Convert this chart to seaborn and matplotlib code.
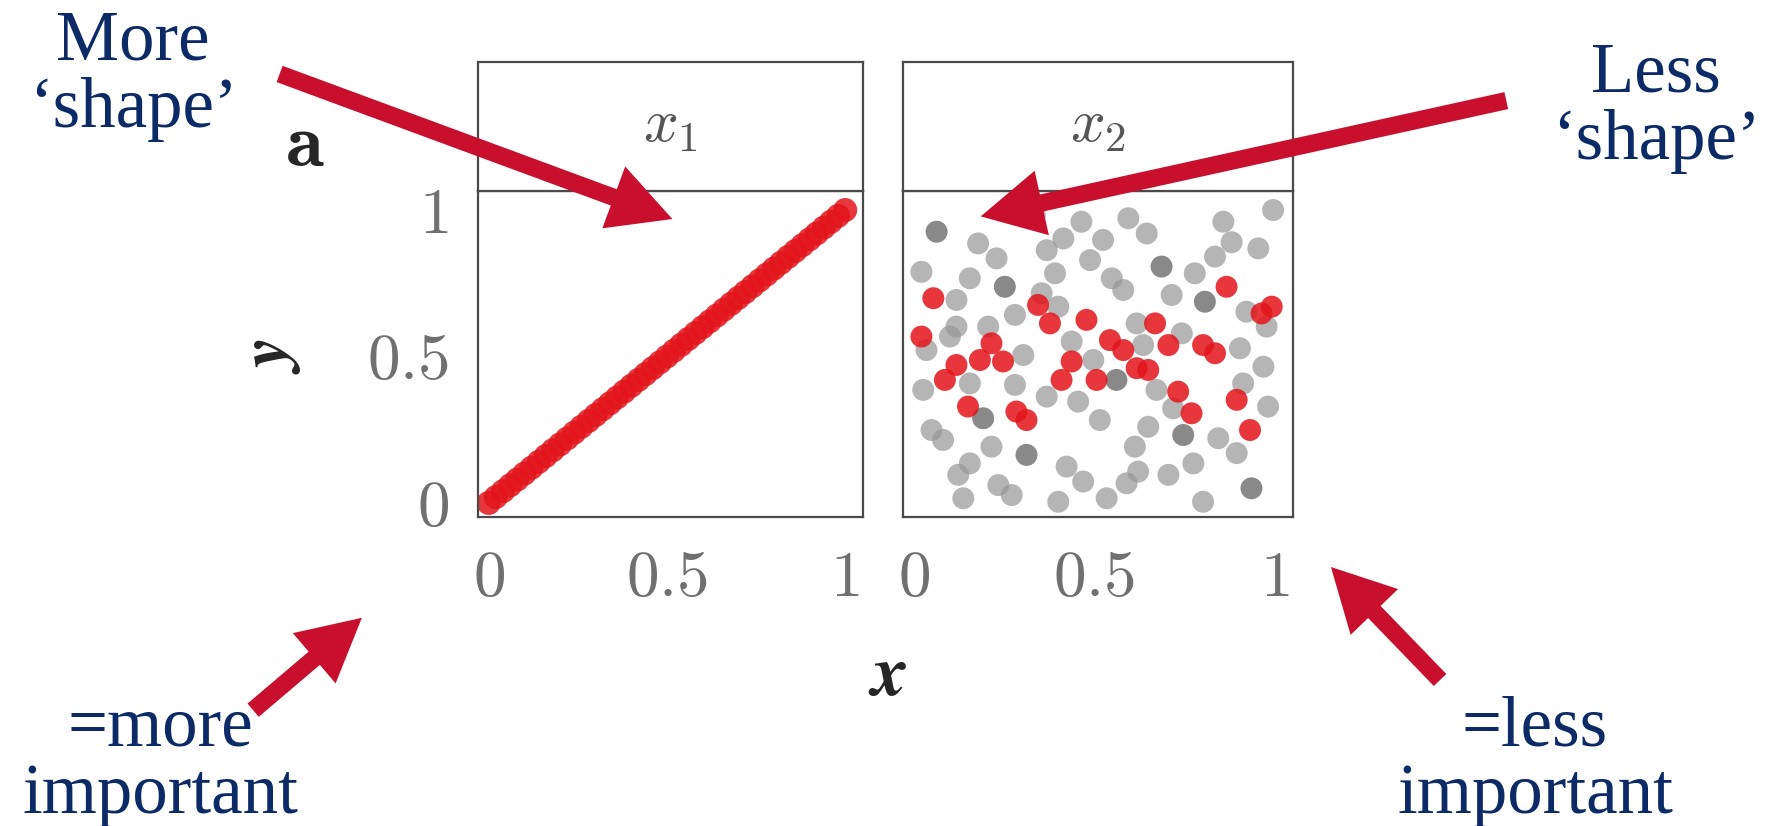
import pandas as pd
import matplotlib.pyplot as plt
import seaborn as sns

sns.set_style('white')
plt.rcParams['mathtext.fontset'] = 'cm'
plt.rcParams['font.family'] = ['Liberation Serif', 'DejaVu Serif']

# Left panel: y depends on x1 (points lie on the diagonal)
x1_vals = [0.00, 0.02, 0.04, 0.06, 0.08, 0.10, 0.12, 0.14, 0.16, 0.18,
           0.20, 0.22, 0.24, 0.26, 0.28, 0.30, 0.32, 0.34, 0.36, 0.38,
           0.40, 0.42, 0.44, 0.46, 0.48, 0.50, 0.52, 0.54, 0.56, 0.58,
           0.60, 0.62, 0.64, 0.66, 0.68, 0.70, 0.72, 0.74, 0.76, 0.78,
           0.80, 0.82, 0.84, 0.86, 0.88, 0.90, 0.92, 0.94, 0.96, 0.98, 1.00]
y1_vals = [0.00, 0.02, 0.04, 0.06, 0.08, 0.10, 0.12, 0.14, 0.16, 0.18,
           0.20, 0.22, 0.24, 0.26, 0.28, 0.30, 0.32, 0.34, 0.36, 0.38,
           0.40, 0.42, 0.44, 0.46, 0.48, 0.50, 0.52, 0.54, 0.56, 0.58,
           0.60, 0.62, 0.64, 0.66, 0.68, 0.70, 0.72, 0.74, 0.76, 0.78,
           0.80, 0.82, 0.84, 0.86, 0.88, 0.90, 0.92, 0.94, 0.96, 0.98, 1.00]

# Right panel: gray cloud (y unrelated to x2)
gray_x = [0.178, 0.229, 0.021, 0.155, 0.118, 0.335, 0.368, 0.414, 0.464, 0.524,
          0.594, 0.645, 0.488, 0.391, 0.548, 0.580, 0.714, 0.857, 0.880, 0.834,
          0.954, 0.995, 0.778, 0.921, 0.118, 0.035, 0.100, 0.206, 0.280, 0.354,
          0.400, 0.303, 0.437, 0.497, 0.617, 0.635, 0.742, 0.903, 0.968, 0.977,
          0.912, 0.026, 0.155, 0.280, 0.368, 0.455, 0.672, 0.718, 0.981, 0.049,
          0.081, 0.215, 0.515, 0.649, 0.612, 0.843, 0.894, 0.155, 0.123, 0.423,
          0.469, 0.621, 0.589, 0.705, 0.774, 0.234, 0.271, 0.137, 0.400, 0.534,
          0.801]
gray_y = [0.886, 0.835, 0.789, 0.767, 0.693, 0.983, 0.863, 0.903, 0.960, 0.898,
          0.972, 0.920, 0.829, 0.784, 0.767, 0.727, 0.710, 0.960, 0.890, 0.841,
          0.869, 1.000, 0.784, 0.653, 0.602, 0.522, 0.568, 0.602, 0.642, 0.716,
          0.670, 0.505, 0.551, 0.488, 0.613, 0.539, 0.579, 0.528, 0.465, 0.602,
          0.408, 0.386, 0.408, 0.403, 0.363, 0.346, 0.386, 0.323, 0.329, 0.249,
          0.215, 0.192, 0.283, 0.260, 0.192, 0.221, 0.170, 0.135, 0.096, 0.124,
          0.073, 0.107, 0.067, 0.096, 0.135, 0.061, 0.027, 0.016, 0.004, 0.016,
          0.004]
dark_x = [0.063, 0.252, 0.686, 0.806, 0.561, 0.192, 0.312, 0.746, 0.935]
dark_y = [0.926, 0.738, 0.807, 0.687, 0.420, 0.289, 0.164, 0.232, 0.050]

# Right panel: red points
red_x = [0.054, 0.021, 0.118, 0.086, 0.215, 0.183, 0.247, 0.150, 0.284, 0.312,
         0.344, 0.377, 0.478, 0.437, 0.409, 0.506, 0.543, 0.580, 0.617, 0.649,
         0.668, 0.705, 0.801, 0.834, 0.866, 0.991, 0.963, 0.732, 0.769, 0.894,
         0.931]
red_y = [0.699, 0.568, 0.471, 0.420, 0.545, 0.488, 0.483, 0.329, 0.312, 0.283,
         0.676, 0.613, 0.625, 0.483, 0.420, 0.420, 0.556, 0.522, 0.460, 0.454,
         0.613, 0.539, 0.539, 0.511, 0.738, 0.670, 0.647, 0.380, 0.306, 0.352,
         0.249]

tick_vals = [0, 0.5, 1]
tick_labels = ['$0$', '$0.5$', '$1$']
panel_titles = ['$x_1$', '$x_2$']

left_df = pd.DataFrame({'x': x1_vals, 'y': y1_vals, 'group': 'red'})
right_df = pd.concat([
    pd.DataFrame({'x': gray_x, 'y': gray_y, 'group': 'gray'}),
    pd.DataFrame({'x': dark_x, 'y': dark_y, 'group': 'dark'}),
    pd.DataFrame({'x': red_x, 'y': red_y, 'group': 'red'}),
], ignore_index=True)

palette = {'red': '#e3141b', 'gray': '#969696', 'dark': '#6c6c6c'}

W, H = 1773, 826
fig = plt.figure(figsize=(W / 100, H / 100), dpi=100)

def fx(px):
    return px / W

def fy(py):
    return 1 - py / H

spine_col = '#4a4a4a'
tick_col = '#707070'
panels = [(478, 863), (903, 1293)]
axes = []
for i, (l, r) in enumerate(panels):
    ax = fig.add_axes([fx(l), fy(517), fx(r - l), (517 - 191) / H])
    hd = fig.add_axes([fx(l), fy(191), fx(r - l), (191 - 62) / H])
    hd.set_xticks([])
    hd.set_yticks([])
    for s in hd.spines.values():
        s.set_color(spine_col)
        s.set_linewidth(1.6)
    hd.text(0.5, 0.5, panel_titles[i], ha='center', va='center', fontsize=44,
            color='#555555', transform=hd.transAxes)
    for s in ax.spines.values():
        s.set_color(spine_col)
        s.set_linewidth(1.6)
    ax.set_xlim(-0.03, 1.05)
    ax.set_ylim(-0.048, 1.065)
    ax.set_xticks(tick_vals)
    ax.set_xticklabels(tick_labels)
    ax.tick_params(axis='both', direction='out', length=15, width=1.6,
                   color=spine_col, labelsize=47, labelcolor=tick_col)
    ax.tick_params(axis='x', pad=9)
    ax.tick_params(axis='y', pad=6)
    if i == 0:
        ax.set_yticks(tick_vals)
        ax.set_yticklabels(tick_labels)
    else:
        ax.set_yticks([])
    axes.append(ax)

sns.scatterplot(data=left_df, x='x', y='y', hue='group', palette=palette,
                s=300, alpha=0.85, linewidth=0, legend=False, ax=axes[0])
for grp, a in [('gray', 0.7), ('dark', 0.8), ('red', 0.85)]:
    sns.scatterplot(data=right_df[right_df['group'] == grp], x='x', y='y',
                    hue='group', palette=palette, s=250, alpha=a, linewidth=0,
                    legend=False, ax=axes[1])
for ax in axes:
    ax.set_xlabel('')
    ax.set_ylabel('')

# axis labels and panel letter
fig.text(fx(305), fy(147), r'$\mathbf{a}$', fontsize=56, ha='center', va='center')
fig.text(fx(271), fy(356), r'$\boldsymbol{y}$', fontsize=50, ha='center',
         va='center', rotation=90)
fig.text(fx(888), fy(678), r'$\boldsymbol{x}$', fontsize=52, ha='center', va='center')

# annotations
navy = '#0b2a66'
crimson = '#c8102e'
notes = [("More\n\u2018shape\u2019", 133, 76),
         ("Less\n\u2018shape\u2019", 1656, 108),
         ("=more\nimportant", 160, 762),
         ("=less\nimportant", 1535, 762)]
for txt, px, py in notes:
    fig.text(fx(px), fy(py), txt, fontsize=51, color=navy, ha='center',
             va='center', linespacing=1.05)

arrows = [((277, 73), (675, 220)),
          ((1509, 100), (978, 217)),
          ((251, 712), (364, 616)),
          ((1442, 682), (1329, 565))]
for (tx, ty), (hx, hy) in arrows:
    fig.add_artist(plt.matplotlib.patches.FancyArrowPatch(
        (fx(tx), fy(ty)), (fx(hx), fy(hy)), transform=fig.transFigure,
        arrowstyle='simple,head_length=0.9,head_width=0.95,tail_width=0.25',
        mutation_scale=50, color=crimson, linewidth=0))

fig.savefig('out.png', dpi=100)
